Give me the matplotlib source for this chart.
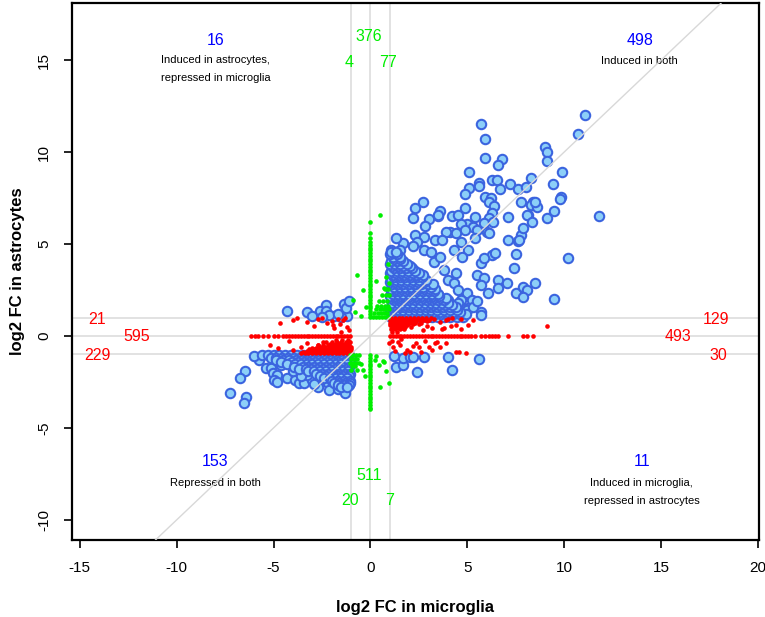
#!/usr/bin/python3
"""
Scatter of log2 fold changes, microglia vs astrocytes.
"""
import matplotlib
matplotlib.use("Agg")
import matplotlib.pyplot as plt
import numpy as np

# ---- data ----
# upper right, sparse part
blue_ur = [
    (11.1, 12.0), (10.7, 11.0), (5.7, 11.5), (5.9, 10.7), (5.9, 9.7), (9.0, 10.3),
    (9.1, 10.0), (9.1, 9.5), (6.8, 9.6), (6.6, 9.3), (5.1, 8.9), (9.9, 8.9),
    (8.3, 8.6), (6.25, 8.5), (6.55, 8.5), (5.6, 8.3), (5.6, 8.15), (5.1, 8.05),
    (6.7, 8.0), (7.2, 8.25), (7.6, 8.0), (8.05, 8.1), (9.4, 8.25), (4.9, 7.7),
    (5.9, 7.55), (6.2, 7.5), (6.1, 7.3), (6.4, 7.05), (7.75, 7.3), (8.4, 7.3),
    (8.3, 7.1), (8.6, 7.0), (9.85, 7.55), (9.8, 7.45), (9.45, 6.8), (8.15, 6.6),
    (6.3, 6.7), (4.9, 6.95), (3.6, 6.8), (2.7, 7.3), (2.3, 6.95), (11.8, 6.5),
    (4.2, 6.5), (4.5, 6.6), (7.1, 6.45), (9.1, 6.4), (5.4, 6.45), (6.1, 6.4),
    (2.2, 6.4), (3.0, 6.35), (3.5, 6.5), (3.5, 6.6), (2.8, 6.0), (5.0, 6.1),
    (4.65, 6.1), (5.3, 5.9), (4.9, 5.75), (8.5, 7.3), (8.1, 6.6), (8.35, 6.2),
    (5.85, 6.15), (6.35, 6.2), (6.0, 5.65), (6.1, 5.6), (5.5, 5.75), (4.1, 5.65),
    (4.4, 5.6), (3.9, 5.65), (2.3, 5.5), (2.75, 5.4), (2.4, 5.1), (3.35, 5.2),
    (3.7, 5.2), (4.65, 5.1), (5.4, 5.3), (7.1, 5.2), (7.6, 5.15), (7.75, 5.5),
    (7.9, 5.85), (7.65, 5.2), (1.7, 5.05), (1.05, 4.7), (1.55, 4.7), (2.75, 4.7),
    (3.1, 4.55), (4.3, 4.7), (5.05, 4.7), (6.3, 4.4), (6.45, 4.5), (7.5, 4.45),
    (10.2, 4.25), (5.7, 3.95), (5.85, 4.25), (7.4, 3.7), (4.75, 4.3), (5.5, 3.3),
    (5.85, 3.15), (5.7, 2.75), (6.05, 2.35), (6.6, 3.05), (7.05, 2.9), (6.6, 2.6),
    (7.5, 2.35), (7.9, 2.65), (8.1, 2.5), (8.5, 2.9), (7.9, 2.1), (9.45, 2.0),
    (5.7, 1.3), (4.0, 3.05), (4.3, 2.9), (4.5, 2.5), (5.0, 2.35), (4.65, 1.95),
    (5.25, 1.95), (5.05, 1.5), (4.15, 1.5), (4.0, 1.95), (4.5, 1.8), (5.0, 1.4),
    (5.3, 1.6), (5.5, 1.9), (5.7, 1.15), (4.6, 1.15), (4.25, 1.45), (3.3, 4.0),
    (3.8, 3.6), (4.4, 3.4), (3.6, 4.3), (2.2, 4.9), (1.3, 5.3),
]
# upper right, dense wedge: astrocyte value -> microglia values
blue_ur_dense = {
    1.05: [1.05, 1.3, 1.55, 1.8, 2.1, 2.35, 2.6, 2.9, 3.2, 3.5, 3.8, 4.1, 4.45, 4.8],
    1.18: [1.2, 1.45, 1.7, 1.95, 2.25, 2.5, 2.75, 3.05, 3.35, 3.65, 3.95, 4.25, 4.6, 4.95],
    1.3: [1.1, 1.35, 1.6, 1.9, 2.15, 2.45, 2.7, 3.0, 3.3, 3.6, 3.95, 4.3, 4.6],
    1.43: [1.0, 1.2, 1.45, 1.7, 2.0, 2.3, 2.55, 2.85, 3.15, 3.45, 3.8, 4.1, 4.45],
    1.55: [1.05, 1.25, 1.5, 1.75, 2.0, 2.3, 2.55, 2.85, 3.15, 3.45, 3.75, 4.1, 4.4],
    1.68: [1.2, 1.5, 1.8, 2.05, 2.35, 2.65, 2.95, 3.25, 3.55, 3.85, 4.2],
    1.8: [1.1, 1.4, 1.65, 1.95, 2.2, 2.5, 2.8, 3.1, 3.4, 3.7, 4.0],
    1.93: [1.2, 1.45, 1.75, 2.0, 2.3, 2.6, 2.9, 3.2, 3.5, 3.8],
    2.05: [1.05, 1.3, 1.55, 1.85, 2.1, 2.4, 2.7, 3.0, 3.3, 3.6, 3.9],
    2.18: [1.0, 1.25, 1.5, 1.8, 2.05, 2.35, 2.65, 2.95, 3.25, 3.55],
    2.3: [1.15, 1.4, 1.7, 2.0, 2.25, 2.55, 2.85, 3.2, 3.5],
    2.43: [1.05, 1.3, 1.55, 1.85, 2.1, 2.4, 2.7, 3.0, 3.3],
    2.55: [1.05, 1.3, 1.6, 1.9, 2.15, 2.45, 2.75, 3.05, 3.35],
    2.68: [1.2, 1.5, 1.8, 2.1, 2.4, 2.7, 3.1],
    2.8: [1.1, 1.4, 1.7, 2.0, 2.3, 2.6, 2.95, 3.25],
    2.93: [1.0, 1.25, 1.55, 1.85, 2.15, 2.45, 2.75],
    3.05: [1.05, 1.3, 1.6, 1.9, 2.2, 2.5, 2.85],
    3.18: [1.2, 1.5, 1.8, 2.1, 2.4, 2.65],
    3.3: [1.15, 1.45, 1.75, 2.05, 2.35, 2.7],
    3.43: [1.0, 1.3, 1.6, 1.9, 2.2, 2.5],
    3.55: [1.05, 1.35, 1.65, 1.95, 2.3],
    3.68: [1.2, 1.5, 1.85, 2.15],
    3.8: [1.1, 1.4, 1.7, 2.05],
    3.93: [1.0, 1.25, 1.55, 1.9],
    4.05: [1.05, 1.35, 1.7],
    4.18: [1.2, 1.55],
    4.3: [1.15, 1.5],
    4.43: [1.0, 1.35],
    4.55: [1.05, 1.3],
}
# lower left
blue_ll = [
    (-5.75, -1.3), (-6.45, -1.9), (-6.75, -2.3), (-7.25, -3.1), (-6.4, -3.3),
    (-6.55, -3.65), (-5.4, -1.75), (-5.15, -1.75), (-5.05, -2.0), (-4.8, -2.1),
    (-5.0, -2.4), (-4.8, -2.5), (-4.3, -2.3), (-3.9, -2.4), (-3.7, -2.55),
    (-3.45, -2.55), (-3.0, -2.4), (-3.25, -2.1), (-2.6, -2.0), (-2.2, -2.55),
    (-2.15, -2.95), (-1.8, -2.4), (-1.4, -2.4), (-2.7, -2.8), (-6.0, -1.1),
    (-5.6, -1.05), (-4.6, -1.6), (-4.0, -1.9), (-3.6, -2.2), (-2.9, -2.6),
    (-1.7, -2.9), (-1.3, -3.1),
]
blue_ll_dense = {
    -1.05: [-5.3, -5.0, -4.7, -4.4, -4.1, -3.8, -3.5, -3.2, -2.9, -2.6, -2.3, -2.0, -1.7, -1.4, -1.1],
    -1.18: [-5.15, -4.85, -4.55, -4.25, -3.95, -3.65, -3.35, -3.05, -2.75, -2.45, -2.15, -1.85, -1.55, -1.25, -1.0],
    -1.3: [-4.9, -4.5, -4.2, -3.85, -3.55, -3.25, -2.95, -2.65, -2.35, -2.05, -1.75, -1.45, -1.15],
    -1.43: [-4.6, -4.05, -3.75, -3.45, -3.15, -2.85, -2.55, -2.25, -1.95, -1.65, -1.35, -1.05],
    -1.55: [-4.3, -3.9, -3.6, -3.3, -3.0, -2.7, -2.4, -2.1, -1.8, -1.5, -1.2],
    -1.68: [-3.95, -3.5, -3.2, -2.9, -2.6, -2.3, -2.0, -1.7, -1.4, -1.1],
    -1.8: [-3.7, -3.35, -3.05, -2.75, -2.45, -2.15, -1.85, -1.55, -1.25],
    -1.93: [-3.2, -2.9, -2.6, -2.3, -2.0, -1.7, -1.4, -1.15],
    -2.05: [-2.8, -2.5, -2.2, -1.9, -1.6, -1.3, -1.05],
    -2.18: [-2.6, -2.3, -2.0, -1.7, -1.4, -1.1],
    -2.3: [-2.4, -2.1, -1.8, -1.5, -1.2],
    -2.43: [-2.0, -1.65, -1.35, -1.05],
    -2.55: [-1.9, -1.6, -1.3, -1.05],
    -2.68: [-1.7, -1.35, -1.1],
    -2.8: [-1.5, -1.2],
}
# opposite quadrants
blue_ul = [
    (-2.3, 1.7), (-1.35, 1.75), (-4.3, 1.35), (-3.3, 1.3), (-2.6, 1.35), (-2.3, 1.35),
    (-1.9, 1.1), (-2.15, 1.15), (-1.35, 1.25), (-1.2, 1.1), (-1.25, 1.5), (-1.5, 1.05),
    (-2.5, 1.05), (-1.1, 1.9), (-1.7, 1.2), (-3.0, 1.1),
]
blue_lr = [
    (1.3, -1.7), (1.7, -1.6), (1.7, -1.2), (2.05, -1.15), (2.4, -1.95), (2.75, -1.15),
    (4.0, -1.15), (4.2, -1.85), (5.6, -1.25), (2.2, -1.15), (1.2, -1.1),
]

# red: changed in microglia only
red_zero_x = [
    -6.15, -5.95, -5.8, -5.55, -5.3, -5.0, -4.75, -4.5, -4.35, -4.2, -4.05, -3.9,
    -3.75, -3.6, -3.45, -3.3, -3.15, -3.0, -2.85, -2.7, -2.55, -2.4, -2.25, -2.1,
    -1.95, -1.8, -1.65, -1.5, -1.35, -1.2, -1.05,
    1.0, 1.15, 1.3, 1.45, 1.6, 1.75, 1.9, 2.05, 2.2, 2.35, 2.5, 2.65, 2.8, 2.95,
    3.1, 3.25, 3.4, 3.55, 3.7, 3.85, 4.0, 4.15, 4.3, 4.45, 4.6, 4.75, 4.9, 5.05,
    5.2, 5.4, 5.7, 5.9, 6.1, 6.3, 6.45, 6.6, 7.1, 7.9, 8.1, 8.4,
]
red_right_dense = {
    0.95: [1.05, 1.25, 1.45, 1.65, 1.85, 2.05, 2.25, 2.45, 2.65, 2.85, 3.1],
    0.88: [1.0, 1.15, 1.35, 1.55, 1.75, 1.95, 2.15, 2.35, 2.55, 2.75, 3.0],
    0.8: [1.1, 1.3, 1.5, 1.7, 1.9, 2.1, 2.35, 2.6, 2.9],
    0.72: [1.0, 1.2, 1.4, 1.6, 1.8, 2.05, 2.3, 2.6],
    0.65: [1.05, 1.25, 1.45, 1.7, 1.95, 2.2, 2.5],
    0.58: [1.0, 1.2, 1.4, 1.65, 1.9],
    0.5: [1.1, 1.3, 1.55, 1.8, 2.1],
    0.42: [1.15, 1.4, 1.65],
    0.35: [1.05, 1.25, 1.5, 1.75],
    0.2: [1.1, 1.35],
}
red_left_dense = {
    -0.95: [-3.6, -3.4, -3.2, -3.0, -2.8, -2.6, -2.4, -2.2, -2.0, -1.8, -1.6, -1.4, -1.2, -1.05],
    -0.88: [-3.5, -3.3, -3.1, -2.9, -2.7, -2.5, -2.3, -2.1, -1.9, -1.7, -1.5, -1.3, -1.15, -1.0],
    -0.8: [-3.3, -3.1, -2.9, -2.7, -2.5, -2.3, -2.1, -1.9, -1.7, -1.5, -1.3, -1.1],
    -0.72: [-3.15, -2.95, -2.75, -2.55, -2.35, -2.15, -1.95, -1.75, -1.55, -1.35, -1.15, -1.0],
    -0.65: [-3.0, -2.8, -2.55, -2.35, -2.15, -1.95, -1.75, -1.55, -1.35, -1.15],
    -0.58: [-2.6, -2.35, -2.1, -1.85, -1.6, -1.4, -1.2, -1.0],
    -0.5: [-2.7, -2.45, -2.2, -1.95, -1.7, -1.5, -1.3, -1.1],
    -0.42: [-2.1, -1.85, -1.6, -1.35, -1.15],
    -0.35: [-2.3, -2.0, -1.75, -1.5, -1.25, -1.05],
    -0.2: [-1.8, -1.45, -1.15],
}
red_sparse = [
    (3.3, 0.9), (3.6, 0.75), (3.9, 0.85), (4.2, 0.95), (4.65, 0.9), (3.2, 0.45),
    (2.7, 0.3), (3.7, 0.35), (9.1, 0.55), (5.3, 0.85), (4.4, 0.6), (2.9, 0.55),
    (4.0, 0.9), (3.8, 0.45), (4.15, 0.55), (4.65, 0.4), (5.05, 0.6),
    (0.95, -0.4), (1.15, -0.6), (1.4, -0.35), (1.55, -0.5), (1.9, -0.75), (2.05, -0.9),
    (2.35, -0.4), (2.5, -0.6), (2.6, -0.85), (3.0, -0.6), (3.2, -0.75), (3.35, -0.4),
    (3.45, -0.35), (3.6, -0.6), (4.4, -0.9), (4.55, -0.9), (4.95, -0.95), (3.9, -0.4),
    (1.1, -0.25), (1.25, -0.8), (1.6, -0.15), (2.2, -0.55), (2.8, -0.3), (1.8, -0.95),
    (-5.2, -0.5), (-4.2, -0.25), (-4.0, -0.75), (-3.6, -0.6), (-3.25, -0.4),
    (-2.95, -0.7), (-2.7, -0.5), (-2.45, -0.35), (-4.75, -0.65),
    (-4.65, 0.7), (-4.0, 0.85), (-3.25, 0.75), (-2.7, 0.9), (-2.25, 0.7), (-1.95, 0.6),
    (-1.55, 0.65), (-1.4, 0.85), (-1.2, 0.5), (-1.9, 0.45), (-1.1, 0.3), (-1.3, 0.95),
    (-1.7, 0.9), (-2.0, 0.8), (-2.9, 0.55), (-1.5, 0.2), (-3.8, 0.95), (-2.5, 0.95),
]

# green: changed in astrocytes only
green_zero_y = [
    1.05, 1.2, 1.35, 1.5, 1.65, 1.8, 1.95, 2.1, 2.25, 2.4, 2.55, 2.7, 2.85, 3.0,
    3.15, 3.3, 3.45, 3.6, 3.75, 3.9, 4.05, 4.2, 4.35, 4.5, 4.65, 4.8, 4.95, 5.1,
    5.3, 5.6, 6.2,
    -1.05, -1.2, -1.35, -1.5, -1.65, -1.8, -1.95, -2.1, -2.25, -2.4, -2.55, -2.7,
    -2.85, -3.0, -3.15, -3.3, -3.45, -3.6, -3.75, -3.9, -4.0,
]
green_up_dense = {
    1.05: [0.15, 0.3, 0.45, 0.6, 0.75, 0.9],
    1.25: [0.2, 0.4, 0.55, 0.7, 0.85],
    1.45: [0.3, 0.5, 0.65, 0.8, 0.95],
    1.65: [0.35, 0.55, 0.75, 0.9],
    1.9: [0.45, 0.65, 0.85],
    2.2: [0.6, 0.8, 0.95],
    2.55: [0.75, 0.9],
}
green_down_dense = {
    -1.05: [-1.05, -0.9, -0.75, -0.6],
    -1.25: [-1.0, -0.85, -0.7],
    -1.45: [-1.05, -0.9, -0.75, -0.6],
    -1.65: [-0.95, -0.8],
    -1.85: [-1.0, -0.7],
}
green_sparse = [
    (-0.7, 3.3), (-0.4, 2.5), (-0.9, 1.95), (0.5, 6.6), (-0.8, 1.3), (-0.5, 1.1),
    (0.3, 3.0), (0.9, 3.9), (-0.25, 1.6), (0.8, 3.2), (0.95, 2.9), (0.7, 2.6),
    (0.25, -1.3), (0.45, -1.6), (0.65, -1.35), (0.5, -2.8), (0.95, -2.55),
    (-0.4, -1.85), (0.7, -1.4), (-0.5, -1.5), (0.3, -1.1), (-0.3, -2.2), (0.8, -1.9),
]

# counts written on the plot: (text, x, y)
blue_counts = [("16", -8.0, 16.05), ("498", 13.9, 16.05),
               ("153", -8.0, -6.85), ("11", 14.0, -6.85)]
green_counts = [("376", -0.1, 16.27), ("4", -1.08, 14.85), ("77", 0.93, 14.85),
                ("511", -0.05, -7.6), ("20", -1.03, -8.95), ("7", 0.98, -8.95)]
red_counts = [("21", -14.1, 0.92), ("595", -12.05, -0.05), ("229", -14.1, -1.07),
              ("129", 17.85, 0.92), ("493", 15.9, -0.05), ("30", 17.96, -1.07)]
quadrant_notes = [("Induced in astrocytes,", -8.0, 15.0), ("repressed in microglia", -8.0, 14.0),
                  ("Induced in both", 13.9, 14.95), ("Repressed in both", -8.0, -8.0),
                  ("Induced in microglia,", 14.0, -8.0), ("repressed in astrocytes", 14.0, -9.0)]

x_ticks = [-15, -10, -5, 0, 5, 10, 15, 20]
y_ticks = [-10, -5, 0, 5, 10, 15]


def rows_to_xy(rows):
    xs, ys = [], []
    for key, vals in rows.items():
        for v in vals:
            xs.append(v)
            ys.append(key)
    return xs, ys


def pairs_to_xy(pairs):
    return [p[0] for p in pairs], [p[1] for p in pairs]


def plot_fc_scatter():
    plt.rcParams['font.family'] = ['Liberation Sans', 'DejaVu Sans']
    fig = plt.figure(figsize=(7.65, 6.17), dpi=100)
    ax = fig.add_axes([0.094, 0.125, 0.898, 0.870])

    line_col = '#DADADA'
    for v in (-1, 0, 1):
        ax.axhline(v, color=line_col, lw=1.1, zorder=1)
        ax.axvline(v, color=line_col, lw=1.1, zorder=1)

    # blue points
    bx, by = pairs_to_xy(blue_ur + blue_ll + blue_ul + blue_lr)
    dx1, dy1 = rows_to_xy(blue_ur_dense)
    dx2, dy2 = rows_to_xy(blue_ll_dense)
    bx = bx + dx1 + dx2
    by = by + dy1 + dy2
    ax.scatter(bx, by, s=46, facecolor='#8CCFF8', edgecolor='#3B64DF',
               linewidth=1.5, zorder=2)

    # red points
    rx = list(red_zero_x)
    ry = [0.0] * len(red_zero_x)
    for rows in (red_right_dense, red_left_dense):
        xs, ys = rows_to_xy(rows)
        rx += xs
        ry += ys
    xs, ys = pairs_to_xy(red_sparse)
    rx += xs
    ry += ys
    ax.scatter(rx, ry, s=11, color='#FF0000', linewidth=0, zorder=3)

    # green points
    gx = [0.0] * len(green_zero_y)
    gy = list(green_zero_y)
    for rows in (green_up_dense, green_down_dense):
        xs, ys = rows_to_xy(rows)
        gx += xs
        gy += ys
    xs, ys = pairs_to_xy(green_sparse)
    gx += xs
    gy += ys
    ax.scatter(gx, gy, s=11, color='#00EE00', linewidth=0, zorder=3)

    # identity line on top
    ax.plot([-30, 30], [-30, 30], color='#D8D8D8', lw=1.0, zorder=4)

    for txt, x, y in blue_counts:
        ax.text(x, y, txt, color='#0000FF', fontsize=11.5, ha='center', va='center')
    for txt, x, y in green_counts:
        ax.text(x, y, txt, color='#00EE00', fontsize=11.5, ha='center', va='center')
    for txt, x, y in red_counts:
        ax.text(x, y, txt, color='#FF0000', fontsize=11.5, ha='center', va='center')
    for txt, x, y in quadrant_notes:
        ax.text(x, y, txt, color='black', fontsize=8, ha='center', va='center',
                family=['Liberation Sans Narrow', 'Liberation Sans', 'DejaVu Sans'])

    ax.set_xlim(-15.41, 20.05)
    ax.set_ylim(-11.09, 18.1)
    ax.set_xticks(x_ticks)
    ax.set_yticks(y_ticks)
    ax.set_xticklabels([str(t) for t in x_ticks], fontsize=11)
    ax.set_yticklabels([str(t) for t in y_ticks], fontsize=11, rotation=90, va='center')
    ax.tick_params(axis='both', length=6, width=1.2, pad=9)
    for sp in ax.spines.values():
        sp.set_linewidth(1.6)
    ax.set_xlabel('log2 FC in microglia', fontsize=12, fontweight='bold', labelpad=18)
    ax.set_ylabel('log2 FC in astrocytes', fontsize=12, fontweight='bold', labelpad=9)

    fig.savefig('out.png', dpi=100)


if __name__ == "__main__":
    plot_fc_scatter()
